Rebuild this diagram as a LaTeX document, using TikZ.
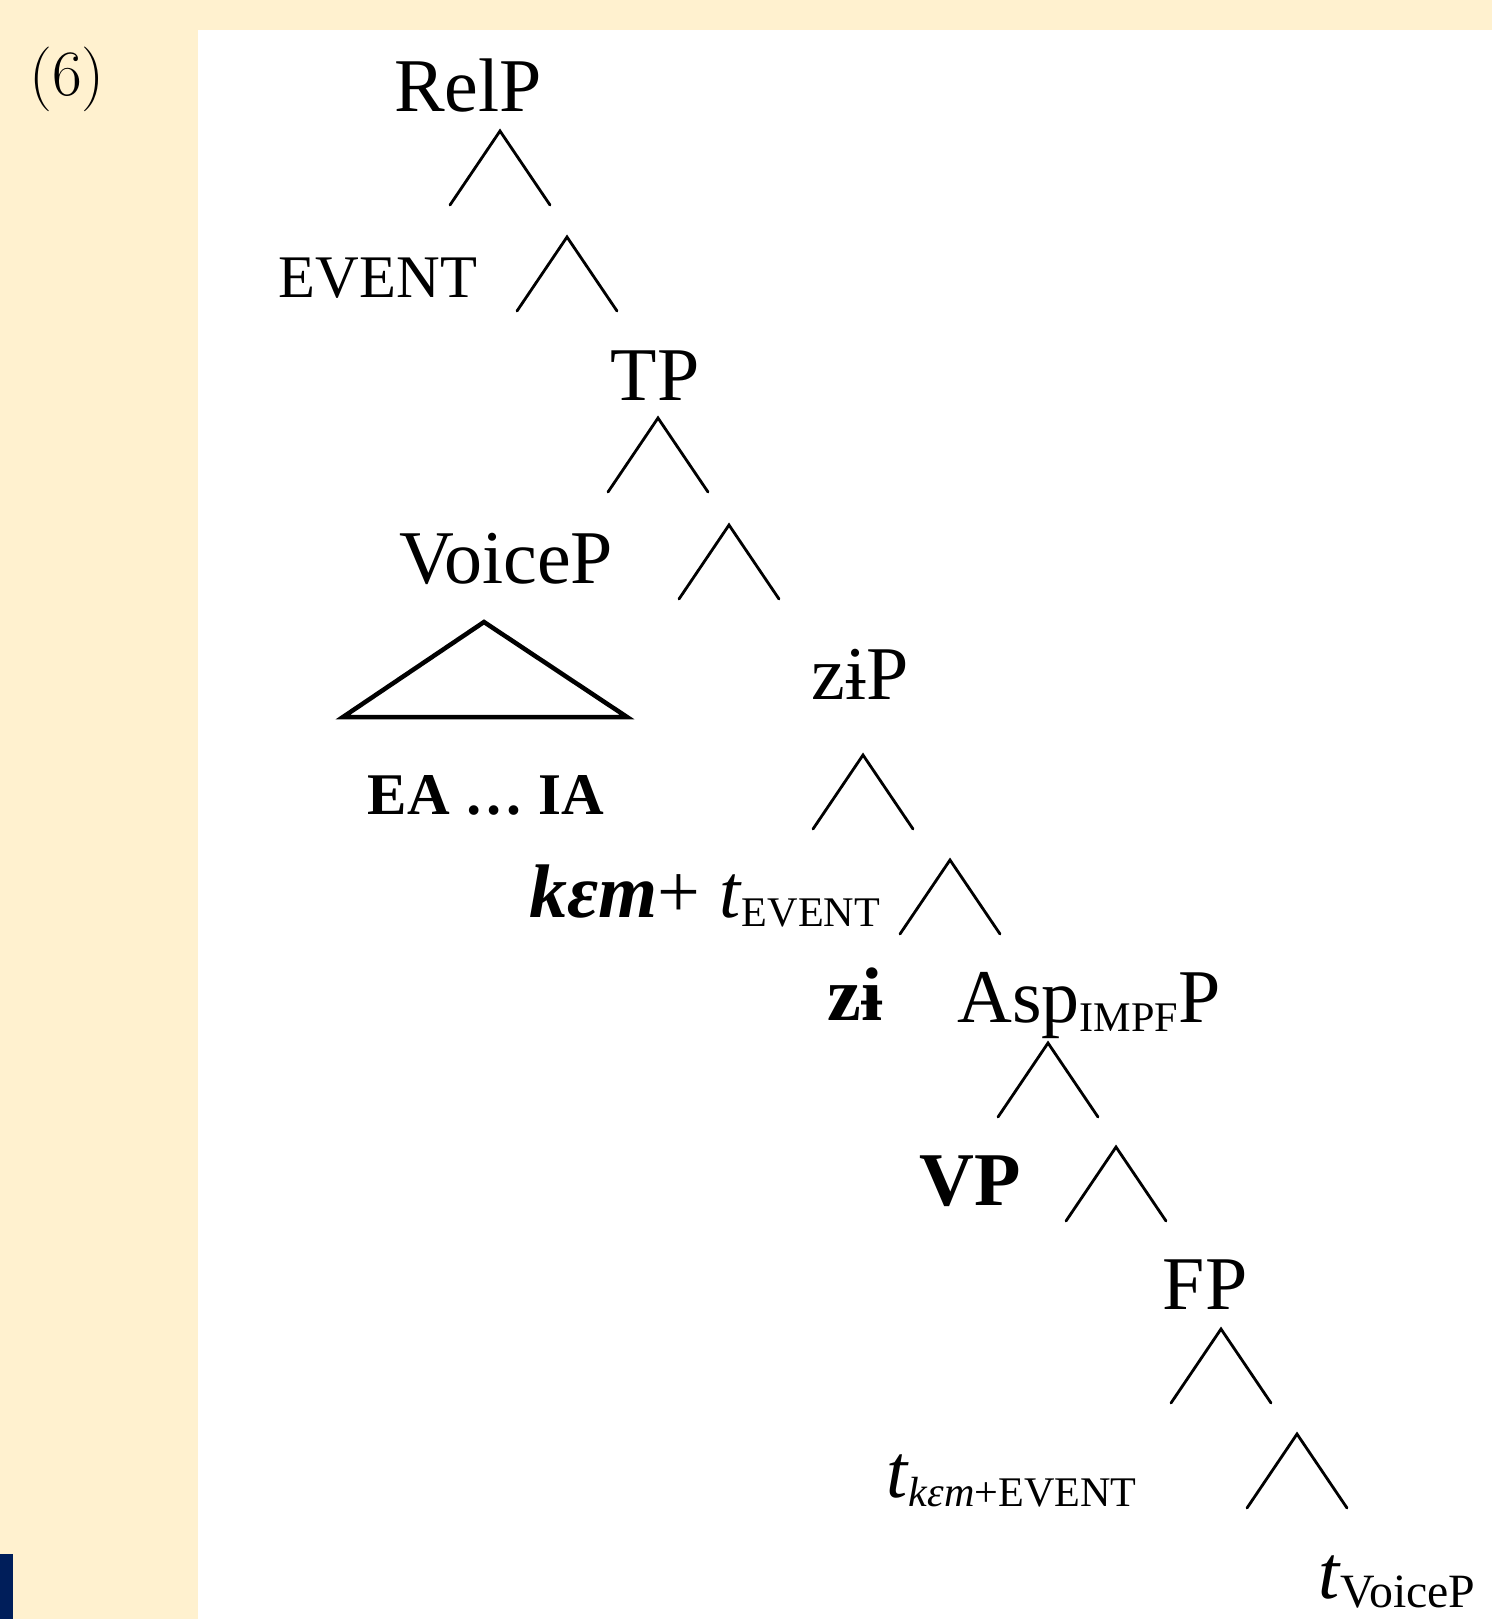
\documentclass[tikz,border=0pt]{standalone}
\usepackage{fontspec}
\newfontfamily\treefont{Liberation Serif}
\usetikzlibrary{calc}
\definecolor{cream}{RGB}{255,241,207}
\definecolor{navy}{RGB}{0,30,90}
\tikzset{
  % node labels of the tree
  lbl/.style={font=\treefont\fontsize{54}{54}\selectfont, inner sep=0pt, anchor=base},
  small/.style={lbl, font=\treefont\fontsize{43}{43}\selectfont},
  boldlbl/.style={lbl, font=\treefont\bfseries\fontsize{42}{42}\selectfont},
  % branches
  branch/.style={line width=2pt, line cap=round},
  roof/.style={line width=3.2pt, line join=miter},
}
% lowered small text
\newcommand{\lowsub}[2][30]{\raisebox{-7pt}{\fontsize{#1}{#1}\selectfont #2}}

\begin{document}
\begin{tikzpicture}[x=0.025cm, y=-0.025cm]
  % background
  \fill[cream] (0,0) rectangle (1492,1619);
  \fill[white] (198,30) rectangle (1492,1619);
  \fill[navy] (0,1554) rectangle (13,1619);
  \node[font=\fontsize{46}{46}\selectfont, inner sep=0pt, anchor=base] (exnum) at (67,95) {(6)};

  % labels
  \node[lbl] (relp) at (468,111) {RelP};
  \node[small] (event) at (378,297) {EVENT};
  \node[lbl] (tp) at (655,400) {TP};
  \node[lbl] (voicep) at (506,583) {VoiceP};
  \node[boldlbl] (eaia) at (486,814) {EA … IA};
  \node[lbl] (zip) at (860,699) {zɨP};
  \node[lbl, anchor=base west] (kem) at (529,917) {{\bfseries\itshape kɛm}+ \textit{t}\lowsub{EVENT}};
  \node[lbl, font=\treefont\bfseries\fontsize{54}{54}\selectfont] (zi) at (855,1020) {zɨ};
  \node[lbl, anchor=base west] (asp) at (957,1022) {Asp\lowsub{IMPF}P};
  \node[lbl, font=\treefont\bfseries\fontsize{54}{54}\selectfont] (vp) at (970,1205) {VP};
  \node[lbl] (fp) at (1205,1309) {FP};
  \node[lbl, anchor=base west] (tkem) at (886,1497) {\textit{t}\lowsub{\textit{kɛm}+EVENT}};
  \node[lbl, anchor=base west] (tvoicep) at (1318,1598) {\textit{t}\lowsub[34]{VoiceP}};

  % branches
  \foreach \n/\x/\y in {1/500/131, 2/567/237, 3/658/418, 4/729/525, 5/863/755,
                        6/950/860, 7/1048/1043, 8/1116/1147, 9/1221/1329, 10/1297/1434}{
    \coordinate (br\n) at (\x,\y);
    \draw[branch] ($(br\n)+(-50,74)$) -- (br\n) -- ($(br\n)+(50,74)$);
  }

  % roof over VoiceP
  \coordinate (rooftop) at (484,622);
  \draw[roof] (rooftop) -- ++(-141,95) -- ++(284,0) -- cycle;
\end{tikzpicture}
\end{document}
